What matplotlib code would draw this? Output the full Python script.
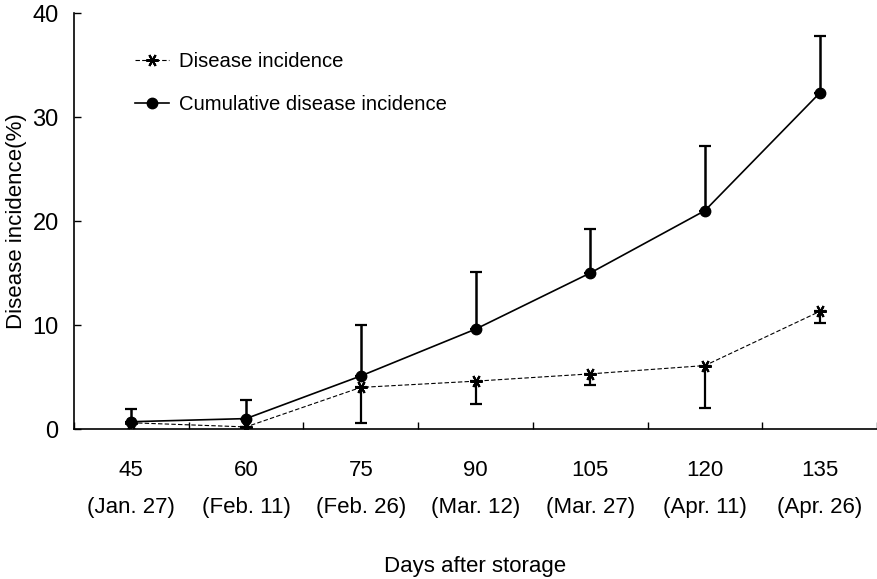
import matplotlib
matplotlib.use("Agg")
import matplotlib.pyplot as plt
import numpy as np

plt.rcParams['font.family'] = ['Liberation Sans', 'DejaVu Sans']

# days after storage and dates
days = ["45", "60", "75", "90", "105", "120", "135"]
dates = ["(Jan. 27)", "(Feb. 11)", "(Feb. 26)", "(Mar. 12)", "(Mar. 27)", "(Apr. 11)", "(Apr. 26)"]

# disease incidence (%), lower error bars only
incidence = [0.6, 0.2, 4.0, 4.6, 5.3, 6.1, 11.3]
incidence_err = [0.9, 0.0, 3.4, 2.2, 1.1, 4.1, 1.1]

# cumulative disease incidence (%), upper error bars only
cumulative = [0.7, 1.0, 5.1, 9.6, 15.0, 21.0, 32.3]
cumulative_err = [1.2, 1.8, 4.9, 5.5, 4.2, 6.2, 5.5]

fig = plt.figure(figsize=(8.77, 5.79), dpi=100)
ax = fig.add_axes([74/877, 1 - 429/579, 1 - 74/877, (429 - 13)/579])

x = np.arange(len(days))
zeros = [0]*len(days)

inc_style = dict(color="black", linestyle=(0, (4, 2)), linewidth=0.8,
                 marker=(6, 2, 90), markersize=9, markeredgewidth=1.5)
cum_style = dict(color="black", linestyle="-", linewidth=1.2,
                 marker="o", markersize=7.5)

# error bars (one sided), then the lines so the legend shows plain handles
ax.errorbar(x, incidence, yerr=[incidence_err, zeros], fmt="none", ecolor="black",
            elinewidth=1.6, capsize=4, capthick=1.6)
ax.errorbar(x, cumulative, yerr=[zeros, cumulative_err], fmt="none", ecolor="black",
            elinewidth=1.8, capsize=4, capthick=1.6)
ax.plot(x, incidence, label="Disease incidence", **inc_style)
ax.plot(x, cumulative, label="Cumulative disease incidence", **cum_style)

ax.set_xlim(-0.5, 6.5)
ax.set_ylim(0, 40)
ax.set_yticks([0, 10, 20, 30, 40])
ax.tick_params(axis="y", direction="in", length=5, width=1, labelsize=17, pad=11)

ax.set_xticks(x)
ax.set_xticklabels([f"{d}\n{dt}" for d, dt in zip(days, dates)])
ax.set_xticks(np.arange(-0.5, 7, 1), minor=True)
ax.tick_params(axis="x", which="major", length=0, labelsize=16, pad=22)
ax.tick_params(axis="x", which="minor", direction="in", length=5, width=1)
for t in ax.get_xticklabels():
    t.set_linespacing(2.0)

for s in ["top", "right"]:
    ax.spines[s].set_visible(False)
ax.spines["left"].set_linewidth(1.2)
ax.spines["bottom"].set_linewidth(1.2)

ax.set_ylabel("Disease incidence(%)", fontsize=16, labelpad=4)
ax.set_xlabel("Days after storage", fontsize=16, labelpad=28)

ax.legend(loc="upper left", bbox_to_anchor=(135/877, 1 - 52/579),
          bbox_transform=fig.transFigure, frameon=False, borderpad=0, borderaxespad=0,
          fontsize=14.6, handlelength=1.7, handletextpad=0.45, labelspacing=1.2)

fig.savefig("out.png", dpi=100)
